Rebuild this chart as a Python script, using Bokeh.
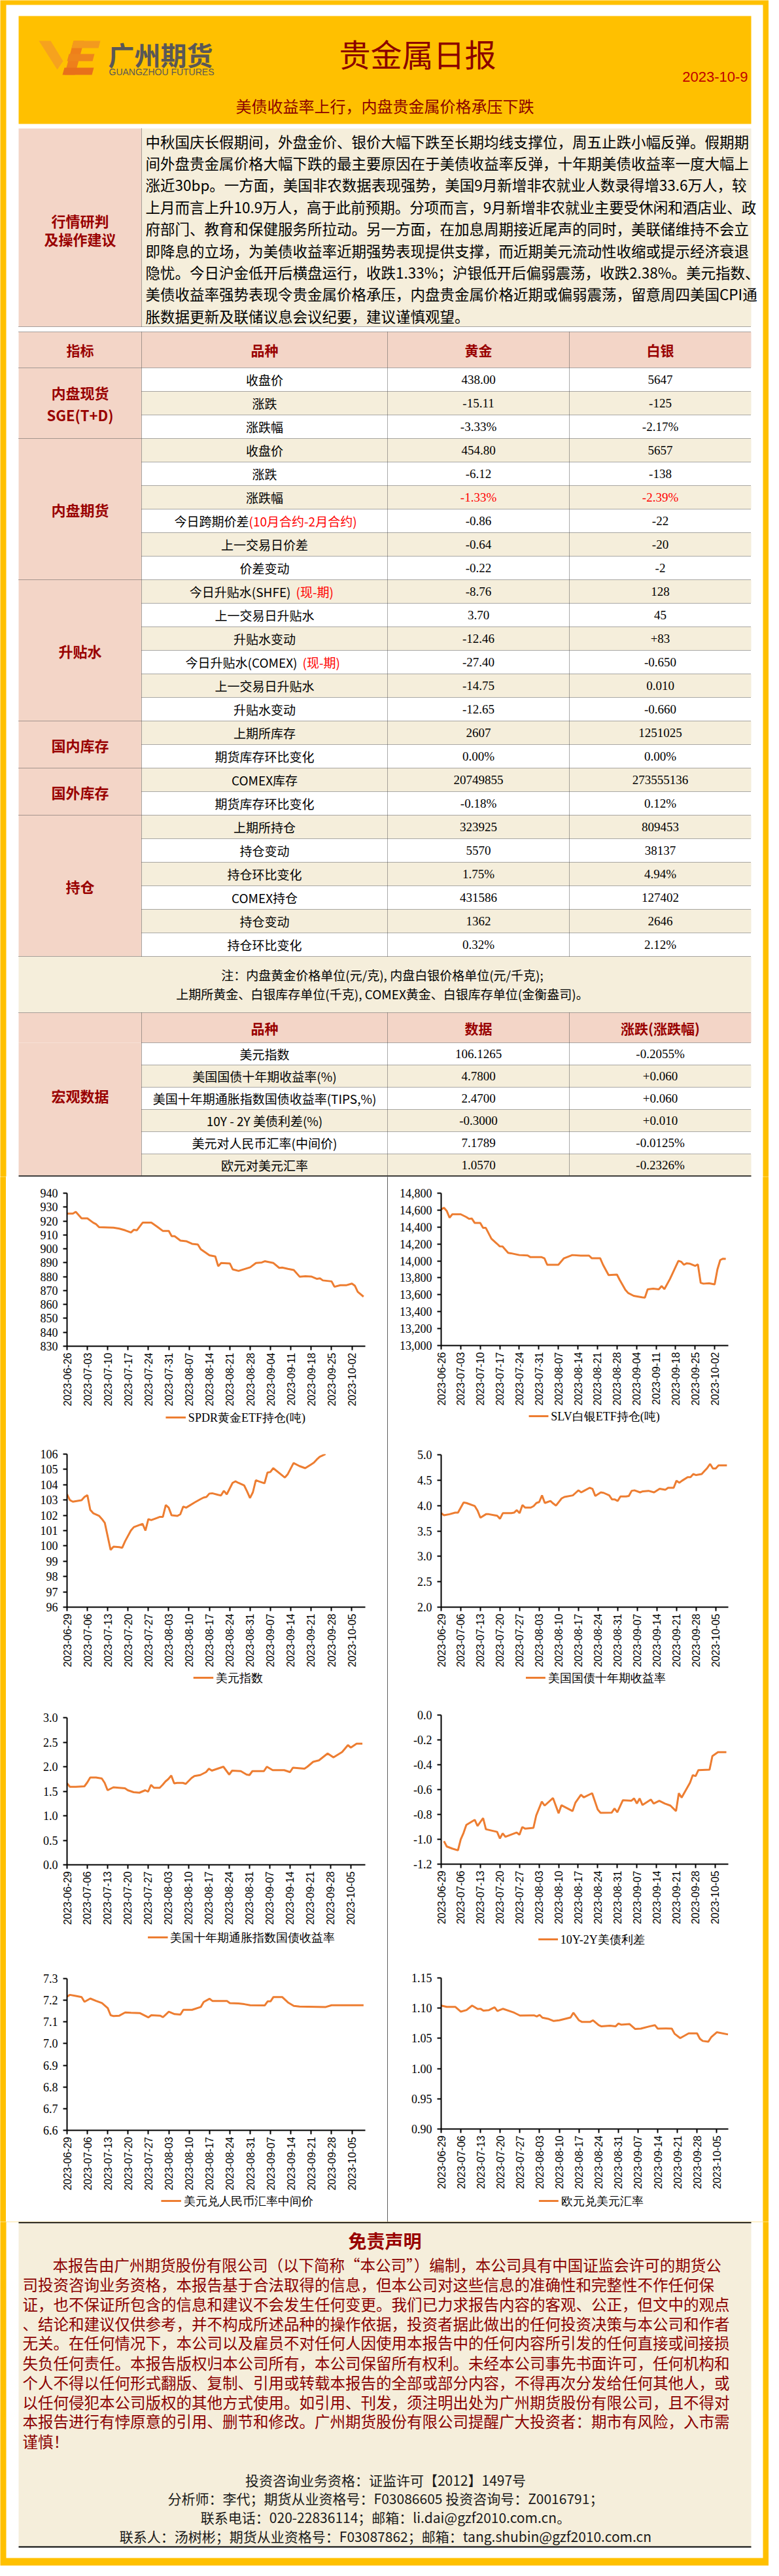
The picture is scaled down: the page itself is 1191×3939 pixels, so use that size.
import math
from collections import defaultdict
import pandas as pd
from bokeh.plotting import figure
from bokeh.models import (Range1d, FixedTicker, NumeralTickFormatter, DatetimeTickFormatter,
                          Row, Column)
from bokeh.core.properties import value
from bokeh.embed import file_html
from bokeh.resources import INLINE

# ------------------------------------------------------------------ data
report_date = "2023-10-9"
report_title = "贵金属日报"
report_subtitle = "美债收益率上行，内盘贵金属价格承压下跌"
research_label = ["行情研判", "及操作建议"]
research_lines = [
    "中秋国庆长假期间，外盘金价、银价大幅下跌至长期均线支撑位，周五止跌小幅反弹。假期期",
    "间外盘贵金属价格大幅下跌的最主要原因在于美债收益率反弹，十年期美债收益率一度大幅上",
    "涨近30bp。一方面，美国非农数据表现强势，美国9月新增非农就业人数录得增33.6万人，较",
    "上月而言上升10.9万人，高于此前预期。分项而言，9月新增非农就业主要受休闲和酒店业、政",
    "府部门、教育和保健服务所拉动。另一方面，在加息周期接近尾声的同时，美联储维持不会立",
    "即降息的立场，为美债收益率近期强势表现提供支撑，而近期美元流动性收缩或提示经济衰退",
    "隐忧。今日沪金低开后横盘运行，收跌1.33%；沪银低开后偏弱震荡，收跌2.38%。美元指数、",
    "美债收益率强势表现令贵金属价格承压，内盘贵金属价格近期或偏弱震荡，留意周四美国CPI通",
    "胀数据更新及联储议息会议纪要，建议谨慎观望。",
]
table_header = ["指标", "品种", "黄金", "白银"]
group_names = [["内盘现货", "SGE(T+D)"], ["内盘期货"], ["升贴水"], ["国内库存"], ["国外库存"], ["持仓"]]
group_sizes = [3, 6, 6, 2, 2, 6]
item_names = ["收盘价", "涨跌", "涨跌幅",
              "收盘价", "涨跌", "涨跌幅", "今日跨期价差", "上一交易日价差", "价差变动",
              "今日升贴水(SHFE)", "上一交易日升贴水", "升贴水变动",
              "今日升贴水(COMEX)", "上一交易日升贴水", "升贴水变动",
              "上期所库存", "期货库存环比变化",
              "COMEX库存", "期货库存环比变化",
              "上期所持仓", "持仓变动", "持仓环比变化", "COMEX持仓", "持仓变动", "持仓环比变化"]
item_suffix = ["", "", "", "", "", "", "(10月合约-2月合约)", "", "", "(现-期)", "", "",
               "(现-期)", "", "", "", "", "", "", "", "", "", "", "", ""]
gold_vals = ["438.00", "-15.11", "-3.33%", "454.80", "-6.12", "-1.33%", "-0.86", "-0.64", "-0.22",
             "-8.76", "3.70", "-12.46", "-27.40", "-14.75", "-12.65", "2607", "0.00%",
             "20749855", "-0.18%", "323925", "5570", "1.75%", "431586", "1362", "0.32%"]
silver_vals = ["5647", "-125", "-2.17%", "5657", "-138", "-2.39%", "-22", "-20", "-2",
               "128", "45", "+83", "-0.650", "0.010", "-0.660", "1251025", "0.00%",
               "273555136", "0.12%", "809453", "38137", "4.94%", "127402", "2646", "2.12%"]
red_value_rows = [5]
note_lines = ["注：内盘黄金价格单位(元/克), 内盘白银价格单位(元/千克);",
              "上期所黄金、白银库存单位(千克), COMEX黄金、白银库存单位(金衡盎司)。"]
macro_label = "宏观数据"
macro_header = ["品种", "数据", "涨跌(涨跌幅)"]
macro_items = ["美元指数", "美国国债十年期收益率(%)", "美国十年期通胀指数国债收益率(TIPS,%)",
               "10Y - 2Y 美债利差(%)", "美元对人民币汇率(中间价)", "欧元对美元汇率"]
macro_vals = ["106.1265", "4.7800", "2.4700", "-0.3000", "7.1789", "1.0570"]
macro_chg = ["-0.2055%", "+0.060", "+0.060", "+0.010", "-0.0125%", "-0.2326%"]

ticks_a = ["2023-06-26", "2023-07-03", "2023-07-10", "2023-07-17", "2023-07-24", "2023-07-31",
           "2023-08-07", "2023-08-14", "2023-08-21", "2023-08-28", "2023-09-04", "2023-09-11",
           "2023-09-18", "2023-09-25", "2023-10-02"]
ticks_b = ["2023-06-29", "2023-07-06", "2023-07-13", "2023-07-20", "2023-07-27", "2023-08-03",
           "2023-08-10", "2023-08-17", "2023-08-24", "2023-08-31", "2023-09-07", "2023-09-14",
           "2023-09-21", "2023-09-28", "2023-10-05"]

spdr_start = "2023-06-26"
spdr_day = [0, 2, 3, 5, 7, 9, 10, 11, 16, 18, 20, 22, 23, 24, 26, 29, 31, 33, 35, 36,
            37, 39, 41, 43, 45, 46, 49, 51, 52, 53, 56, 57, 59, 63, 65, 67, 68, 71, 73, 74,
            76, 78, 80, 82, 84, 86, 87, 88, 91, 92, 94, 96, 98, 99, 100, 102]
spdr_val = [925.3, 925.3, 926.6, 921.9, 921.9, 918.8, 917.7, 915.6, 915.2, 914.5,
            913.3, 911.7, 913.7, 913.3, 918.8, 918.8, 915.9, 912.8, 912.8, 909.1,
            909.1, 905.9, 905.5, 903.6, 903.1, 899.7, 895.3, 894.5, 887.5, 889.8,
            889.5, 885.2, 884.1, 886.7, 889.8, 890.2, 891.1, 889.8, 886.3, 886.5,
            885.6, 884.8, 880.0, 880.3, 880.1, 878.4, 878.8, 877.3, 876.6, 872.7,
            873.8, 873.8, 875.0, 873.5, 869.1, 865.6]

slv_start = "2023-06-26"
slv_day = [0, 1, 2, 3, 4, 5, 7, 9, 10, 11, 12, 14, 15, 16, 17, 18, 20, 21, 22, 24,
           25, 28, 31, 32, 36, 37, 38, 42, 44, 47, 50, 53, 54, 57, 58, 60, 63, 64, 66, 67,
           69, 72, 73, 74, 76, 78, 79, 80, 82, 85, 86, 87, 88, 89, 91, 92, 93, 94, 96, 98,
           99, 100, 101, 102]
slv_val = [14608, 14628, 14590, 14510, 14551, 14551, 14551, 14518, 14497, 14500,
           14449, 14449, 14390, 14390, 14326, 14262, 14203, 14172, 14170, 14095,
           14090, 14069, 14064, 14044, 14044, 14031, 13954, 13954, 14031, 14069,
           14062, 14062, 14031, 14031, 13954, 13833, 13838, 13774, 13659, 13621,
           13587, 13569, 13565, 13664, 13672, 13664, 13703, 13667, 13787, 14000,
           13990, 13954, 13972, 13968, 13941, 13959, 13741, 13731, 13736, 13723,
           13900, 14010, 14026, 14023]

dxy_start = "2023-06-29"
dxy_day = [0, 1, 2, 5, 6, 7, 8, 9, 11, 12, 13, 15, 16, 18, 19, 20, 22, 23, 26, 27,
           28, 29, 31, 32, 33, 34, 35, 36, 38, 39, 40, 41, 44, 46, 47, 48, 49, 50, 52, 53,
           54, 55, 57, 58, 59, 61, 62, 63, 64, 65, 66, 68, 69, 70, 71, 75, 76, 78, 80, 82,
           84, 85, 86, 87, 89]
dxy_val = [103.37, 102.99, 102.89, 102.99, 103.20, 103.32, 102.36, 102.14, 101.97, 101.76,
           101.51, 99.74, 99.95, 99.92, 99.88, 100.31, 101.01, 101.23, 101.44, 101.00,
           101.75, 101.69, 101.83, 101.90, 101.90, 102.67, 102.50, 102.00, 101.96, 102.07,
           102.57, 102.50, 102.85, 103.06, 103.16, 103.20, 103.42, 103.44, 103.34, 103.30,
           103.60, 103.37, 104.12, 104.22, 104.12, 103.95, 103.56, 103.13, 103.51, 104.29,
           104.22, 104.09, 104.79, 104.83, 105.08, 104.47, 104.69, 105.42, 105.22, 105.08,
           105.32, 105.44, 105.65, 105.82, 106.00]

ust_start = "2023-06-29"
ust_day = [0, 1, 3, 5, 6, 8, 9, 12, 13, 14, 16, 17, 19, 20, 21, 22, 25, 26, 27, 28,
           29, 30, 32, 33, 34, 35, 36, 37, 38, 39, 40, 41, 43, 44, 47, 48, 49, 50, 51, 53,
           54, 55, 57, 58, 60, 61, 62, 63, 64, 66, 67, 68, 69, 71, 72, 74, 76, 78, 80, 81,
           83, 84, 85, 86, 88, 89, 90, 91, 93, 94, 95, 96, 97, 98, 99, 102]
ust_val = [3.85, 3.81, 3.83, 3.86, 3.86, 4.06, 4.05, 3.99, 3.90, 3.76,
           3.83, 3.83, 3.81, 3.80, 3.74, 3.85, 3.85, 3.86, 3.91, 3.85,
           4.01, 3.96, 3.96, 3.99, 4.05, 4.07, 4.20, 4.05, 4.07, 4.09,
           4.04, 4.00, 4.14, 4.17, 4.20, 4.25, 4.30, 4.26, 4.29, 4.35,
           4.33, 4.19, 4.26, 4.25, 4.20, 4.12, 4.12, 4.09, 4.18, 4.18,
           4.19, 4.29, 4.30, 4.26, 4.28, 4.29, 4.26, 4.33, 4.31, 4.35,
           4.35, 4.49, 4.45, 4.49, 4.56, 4.56, 4.62, 4.60, 4.62, 4.68,
           4.74, 4.82, 4.73, 4.73, 4.79, 4.79]

tips_start = "2023-06-29"
tips_day = [0, 1, 3, 6, 7, 8, 10, 12, 13, 14, 16, 18, 20, 21, 23, 25, 27, 28, 29, 30,
            32, 33, 34, 35, 36, 37, 38, 40, 41, 43, 44, 46, 48, 49, 50, 52, 54, 56, 57, 60,
            62, 63, 64, 68, 69, 71, 75, 77, 78, 82, 83, 85, 87, 90, 92, 95, 97, 98, 100, 102]
tips_val = [1.66, 1.59, 1.59, 1.60, 1.68, 1.78, 1.78, 1.76, 1.67, 1.52,
            1.58, 1.57, 1.56, 1.52, 1.48, 1.47, 1.52, 1.49, 1.63, 1.57,
            1.57, 1.63, 1.70, 1.75, 1.82, 1.66, 1.67, 1.67, 1.65, 1.77,
            1.81, 1.83, 1.89, 1.96, 1.92, 1.96, 2.00, 1.84, 1.92, 1.91,
            1.84, 1.83, 1.91, 1.91, 2.00, 1.93, 1.93, 1.89, 1.98, 1.96,
            2.00, 2.10, 2.13, 2.27, 2.19, 2.30, 2.44, 2.39, 2.47, 2.47]

spread_start = "2023-06-29"
spread_day = [1, 2, 4, 6, 7, 8, 9, 12, 13, 15, 16, 20, 21, 22, 23, 27, 28, 29, 30, 33,
              34, 36, 37, 40, 42, 43, 47, 48, 50, 51, 54, 56, 57, 61, 62, 63, 65, 68, 69, 70,
              71, 72, 75, 76, 78, 80, 82, 84, 85, 86, 89, 90, 91, 92, 96, 97, 99, 102]
spread_val = [-1.015, -1.058, -1.075, -1.089, -1.001, -0.949, -0.884, -0.843, -0.893, -0.829,
              -0.919, -0.940, -0.993, -0.952, -0.980, -0.945, -0.963, -0.901, -0.914, -0.908,
              -0.808, -0.697, -0.729, -0.668, -0.791, -0.726, -0.773, -0.706, -0.641, -0.662,
              -0.629, -0.761, -0.787, -0.785, -0.752, -0.782, -0.685, -0.690, -0.671, -0.712,
              -0.671, -0.724, -0.680, -0.712, -0.690, -0.712, -0.729, -0.773, -0.629, -0.664,
              -0.545, -0.483, -0.492, -0.443, -0.439, -0.330, -0.299, -0.299]

cny_start = "2023-06-29"
cny_day = [0, 1, 3, 5, 6, 8, 10, 12, 14, 15, 16, 18, 20, 22, 25, 28, 29, 32, 33, 35,
           37, 39, 40, 43, 46, 47, 49, 50, 55, 56, 59, 61, 63, 68, 69, 70, 71, 74, 76, 78,
           80, 89, 91, 102]
cny_val = [7.217, 7.225, 7.220, 7.215, 7.193, 7.208, 7.197, 7.187, 7.164, 7.131,
           7.127, 7.129, 7.144, 7.142, 7.141, 7.121, 7.131, 7.129, 7.122, 7.147,
           7.136, 7.134, 7.156, 7.156, 7.169, 7.192, 7.207, 7.197, 7.197, 7.187,
           7.185, 7.182, 7.177, 7.176, 7.195, 7.195, 7.215, 7.215, 7.190, 7.174,
           7.171, 7.169, 7.177, 7.177]

eur_start = "2023-06-29"
eur_day = [0, 2, 5, 7, 9, 11, 13, 14, 15, 17, 19, 20, 22, 25, 26, 28, 33, 34, 35, 36,
           38, 40, 42, 46, 47, 49, 50, 53, 54, 56, 57, 60, 62, 63, 64, 67, 69, 71, 74, 76,
           77, 80, 82, 83, 85, 88, 91, 92, 93, 95, 96, 98, 102]
eur_val = [1.1043, 1.1022, 1.1022, 1.0942, 1.0968, 1.1043, 1.0986, 1.0990, 1.0960, 1.0968,
           1.1014, 1.0953, 1.0989, 1.0942, 1.0924, 1.0878, 1.0881, 1.0863, 1.0888, 1.0842,
           1.0824, 1.0788, 1.0799, 1.0845, 1.0924, 1.0799, 1.0773, 1.0773, 1.0799, 1.0719,
           1.0698, 1.0709, 1.0698, 1.0745, 1.0727, 1.0737, 1.0655, 1.0662, 1.0698, 1.0719,
           1.0662, 1.0665, 1.0662, 1.0576, 1.0504, 1.0583, 1.0583, 1.0493, 1.0457, 1.0446,
           1.0518, 1.0601, 1.0565]

disclaimer_title = "免责声明"
disclaimer_lines = [
    "本报告由广州期货股份有限公司（以下简称“本公司”）编制，本公司具有中国证监会许可的期货公",
    "司投资咨询业务资格，本报告基于合法取得的信息，但本公司对这些信息的准确性和完整性不作任何保",
    "证，也不保证所包含的信息和建议不会发生任何变更。我们已力求报告内容的客观、公正，但文中的观点",
    "、结论和建议仅供参考，并不构成所述品种的操作依据，投资者据此做出的任何投资决策与本公司和作者",
    "无关。在任何情况下，本公司以及雇员不对任何人因使用本报告中的任何内容所引发的任何直接或间接损",
    "失负任何责任。本报告版权归本公司所有，本公司保留所有权利。未经本公司事先书面许可，任何机构和",
    "个人不得以任何形式翻版、复制、引用或转载本报告的全部或部分内容，不得再次分发给任何其他人，或",
    "以任何侵犯本公司版权的其他方式使用。如引用、刊发，须注明出处为广州期货股份有限公司，且不得对",
    "本报告进行有悖原意的引用、删节和修改。广州期货股份有限公司提醒广大投资者：期市有风险，入市需",
    "谨慎！",
]
contact_lines = [
    "投资咨询业务资格：证监许可【2012】1497号",
    "分析师：李代；期货从业资格号：F03086605 投资咨询号：Z0016791；",
    "联系电话：020-22836114；邮箱：li.dai@gzf2010.com.cn。",
    "联系人：汤树彬；期货从业资格号：F03087862；邮箱：tang.shubin@gzf2010.com.cn",
]

# ------------------------------------------------------------------ style
YELLOW = "#FFC000"
PINK = "#F3D5C7"
BEIGE = "#F5EEDB"
DARKRED = "#8B0000"
LABELRED = "#990000"
RED = "#FF0000"
ORANGE = "#ED7D31"
CJK = "Noto Sans CJK SC"
SERIF = "Liberation Serif"
SANS = "Liberation Sans"


def canvas(w, h, x0, x1, ytop, ybot, bg):
    return figure(width=w, height=h, x_range=Range1d(x0, x1), y_range=Range1d(ybot, ytop),
                  output_backend="svg", toolbar_location=None, x_axis_type=None, y_axis_type=None,
                  min_border=0, outline_line_color=None,
                  background_fill_color=bg, border_fill_color=bg)


def quads(p, boxes):
    p.quad(left=[b[0] for b in boxes], right=[b[1] for b in boxes],
           top=[b[2] for b in boxes], bottom=[b[3] for b in boxes],
           fill_color=[b[4] for b in boxes], line_color=None)


def texts(p, items):
    groups = defaultdict(lambda: ([], [], []))
    for (x, y, s, size, color, font, align, bold) in items:
        g = groups[(size, color, font, align, bold)]
        g[0].append(x)
        g[1].append(y)
        g[2].append(s)
    for (size, color, font, align, bold), (xs, ys, ss) in groups.items():
        p.text(x=xs, y=ys, text=ss, text_font=value(font), text_font_size=value(f"{size}px"),
               text_color=color, text_align=align, text_baseline="middle",
               text_font_style="bold" if bold else "normal")


def dotted(p, segs):
    p.segment(x0=[s[0] for s in segs], y0=[s[1] for s in segs],
              x1=[s[2] for s in segs], y1=[s[3] for s in segs],
              line_color="#555555", line_width=1, line_dash="1 1")


# ------------------------------------------------------------------ top section
top = canvas(1175, 1799, 8, 1183, 8, 1807, YELLOW)
boxes = [(17, 1174, 15, 1807, "white"), (36, 1156, 32, 197, YELLOW),
         (36, 224, 204, 507, PINK), (224, 1156, 204, 507, BEIGE),
         (36, 1156, 515, 570, PINK), (36, 224, 570, 1470, PINK)]
ROW0, RH = 570, 36
for i in range(len(item_names)):
    boxes.append((224, 1156, ROW0 + RH * i, ROW0 + RH * (i + 1), "white" if i % 2 == 0 else BEIGE))
boxes += [(36, 1156, 1470, 1556, BEIGE), (36, 1156, 1556, 1602, PINK), (36, 224, 1602, 1805, PINK)]
MR0, MRH = 1602, 34
for i in range(len(macro_items)):
    boxes.append((224, 1156, MR0 + MRH * i, MR0 + MRH * (i + 1), "white" if i % 2 == 0 else BEIGE))
boxes.append((36, 1156, 1805, 1807, "black"))
quads(top, boxes)

# logo
top.patches(xs=[[67, 85, 104, 95], [120, 136, 122, 106], [120, 161, 158, 117],
                [113, 152, 149, 110], [106, 151, 148, 103]],
            ys=[[70, 70, 101, 114], [70, 70, 122, 122], [70, 70, 81, 81],
                [90, 90, 101, 101], [111, 111, 122, 122]],
            fill_color=["#F6A21E", "#EE7F1B", "#F39A1E", "#EE851C", "#E8701A"], line_color=None)

# grid lines
segs = [(36, 507, 1156, 507), (36, 515, 1156, 515), (36, 570, 1156, 570), (224, 204, 224, 507)]
bounds = set()
acc = 0
for n in group_sizes:
    acc += n
    bounds.add(acc)
for k in range(1, len(item_names) + 1):
    y = ROW0 + RH * k
    segs.append((36 if k in bounds else 224, y, 1156, y))
for x in (224, 600, 878):
    segs.append((x, 515, x, 1470))
    segs.append((x, 1556, x, 1805))
segs.append((36, 1556, 1156, 1556))
segs.append((224, 1602, 1156, 1602))
for k in range(1, len(macro_items)):
    segs.append((224, MR0 + MRH * k, 1156, MR0 + MRH * k))
dotted(top, segs)

T = []
T.append((173, 90, "广州期货", 40, "#595757", CJK, "left", True))
T.append((174, 117, "GUANGZHOU FUTURES", 14, "#595757", SANS, "left", False))
T.append((646, 88, report_title, 48, DARKRED, CJK, "center", False))
T.append((1151, 125, report_date, 22, "#C00000", SANS, "right", False))
T.append((596, 169, report_subtitle, 24, DARKRED, CJK, "center", False))
T.append((130, 344, research_label[0], 22, LABELRED, CJK, "center", True))
T.append((130, 372, research_label[1], 22, LABELRED, CJK, "center", True))
for k, line in enumerate(research_lines):
    T.append((230, 223 + 33.4 * k, line, 22.5, "#000000", CJK, "left", False))
for x, s in zip((130, 412, 739, 1017), table_header):
    T.append((x, 542, s, 21, LABELRED, CJK, "center", True))
start = 0
for names, n in zip(group_names, group_sizes):
    cy = ROW0 + RH * (start + n / 2)
    if len(names) == 2:
        T.append((130, cy - 17, names[0], 22, LABELRED, CJK, "center", True))
        T.append((130, cy + 17, names[1], 22, LABELRED, CJK, "center", True))
    else:
        T.append((130, cy, names[0], 22, LABELRED, CJK, "center", True))
    start += n
split_x = {6: 388, 9: 452, 12: 462}
for i, name in enumerate(item_names):
    cy = ROW0 + RH * i + 18
    if item_suffix[i]:
        sx = split_x[i]
        gap = 0 if i == 6 else 8
        T.append((sx, cy, name, 19, "#000000", CJK, "right", False))
        T.append((sx + gap, cy, item_suffix[i], 19, RED, CJK, "left", False))
    else:
        T.append((412, cy, name, 19, "#000000", CJK, "center", False))
    vc = RED if i in red_value_rows else "#000000"
    T.append((739, cy, gold_vals[i], 19, vc, SERIF, "center", False))
    T.append((1017, cy, silver_vals[i], 19, vc, SERIF, "center", False))
T.append((592, 1498, note_lines[0], 19, "#000000", CJK, "center", False))
T.append((592, 1527, note_lines[1], 19, "#000000", CJK, "center", False))
for x, s in zip((412, 739, 1017), macro_header):
    T.append((x, 1579, s, 21, LABELRED, CJK, "center", True))
T.append((130, 1682, macro_label, 22, LABELRED, CJK, "center", True))
for i in range(len(macro_items)):
    cy = MR0 + MRH * i + 17
    T.append((412, cy, macro_items[i], 19, "#000000", CJK, "center", False))
    T.append((739, cy, macro_vals[i], 19, "#000000", SERIF, "center", False))
    T.append((1017, cy, macro_chg[i], 19, "#000000", SERIF, "center", False))
texts(top, T)


# ------------------------------------------------------------------ charts
def chart(w, x_left, geo, start, days, vals, end_days, tick_strs, yr, yticks, yfmt, label, leg_x):
    # geo: (row_top, row_bottom, frame_top, frame_bottom, border_left, border_right, legend_center)
    row_top, row_bot, f_top, f_bot, bl, br, leg_c = geo
    leg_top = leg_c - 13
    h = leg_top - row_top
    t0 = pd.Timestamp(start)
    xs = [t0 + pd.Timedelta(days=d) for d in days]
    p = figure(width=w, height=h, x_axis_type="datetime",
               x_range=Range1d(t0, t0 + pd.Timedelta(days=end_days)),
               y_range=Range1d(yr[0], yr[1]),
               output_backend="svg", toolbar_location=None,
               min_border_left=bl, min_border_right=br,
               min_border_top=f_top - row_top, min_border_bottom=leg_top - f_bot,
               background_fill_color="white", border_fill_color="white", outline_line_color=None)
    p.line(xs, vals, line_color=ORANGE, line_width=3)
    p.grid.visible = False
    p.xaxis.ticker = FixedTicker(ticks=[pd.Timestamp(s).value / 1e6 for s in tick_strs])
    f = "%Y-%m-%d"
    p.xaxis.formatter = DatetimeTickFormatter(milliseconds=f, seconds=f, minsec=f, minutes=f,
                                              hourmin=f, hours=f, days=f, months=f, years=f)
    p.xaxis.major_label_orientation = math.pi / 2
    p.xaxis.major_label_text_font = SANS
    p.xaxis.major_label_text_font_size = "16px"
    p.xaxis.major_label_standoff = 4
    p.yaxis.ticker = FixedTicker(ticks=yticks)
    p.yaxis.formatter = NumeralTickFormatter(format=yfmt)
    p.yaxis.major_label_text_font = SERIF
    p.yaxis.major_label_text_font_size = "18px"
    p.yaxis.major_label_standoff = 8
    for ax in (p.xaxis, p.yaxis):
        ax.axis_line_color = "black"
        ax.axis_line_width = 2
        ax.major_tick_line_color = "black"
        ax.major_tick_line_width = 2
        ax.major_tick_out = 6
        ax.major_tick_in = 0
        ax.minor_tick_out = 0
        ax.minor_tick_in = 0
        ax.major_label_text_color = "black"

    # legend strip below the chart (key line + series name)
    lf = canvas(w, row_bot - leg_top, x_left, x_left + w, leg_top, row_bot, "white")
    lf.line(x=[leg_x, leg_x + 39], y=[leg_c, leg_c], line_color=ORANGE, line_width=3)
    texts(lf, [(leg_x + 44, leg_c, label, 18, "#000000", SERIF, "left", False)])
    return p, lf


c1 = chart(583, 17, (1807, 2204, 1832, 2066, 93, 34, 2175), spdr_start, spdr_day, spdr_val, 102.6,
           ticks_a, (830, 940), list(range(830, 941, 10)), "0", "SPDR黄金ETF持仓(吨)", 210)
c2 = chart(573, 601, (1807, 2204, 1832, 2066, 79, 50, 2173), slv_start, slv_day, slv_val, 102.9,
           ticks_a, (13000, 14800), list(range(13000, 14801, 200)), "0,0", "SLV白银ETF持仓(吨)", 776)
c3 = chart(583, 17, (2206, 2605, 2231, 2467, 91, 34, 2573), dxy_start, dxy_day, dxy_val, 102.7,
           ticks_b, (96, 106), list(range(96, 107)), "0", "美元指数", 264)
c4 = chart(573, 601, (2206, 2605, 2232, 2467, 78, 52, 2573), ust_start, ust_day, ust_val, 102.5,
           ticks_b, (2.0, 5.0), [2.0, 2.5, 3.0, 3.5, 4.0, 4.5, 5.0], "0.0", "美国国债十年期收益率", 770)
c5 = chart(583, 17, (2607, 3005, 2634, 2859, 89, 34, 2970), tips_start, tips_day, tips_val, 103.0,
           ticks_b, (0.0, 3.0), [0.0, 0.5, 1.0, 1.5, 2.0, 2.5, 3.0], "0.0", "美国十年期通胀指数国债收益率", 175)
c6 = chart(573, 601, (2607, 3005, 2630, 2858, 73, 53, 2973), spread_start, spread_day, spread_val, 102.7,
           ticks_b, (-1.2, 0.0), [-1.2, -1.0, -0.8, -0.6, -0.4, -0.2, 0.0], "0.0", "10Y-2Y美债利差", 795)
c7 = chart(583, 17, (3007, 3405, 3033, 3266, 89, 34, 3373), cny_start, cny_day, cny_val, 102.6,
           ticks_b, (6.6, 7.3), [6.6, 6.7, 6.8, 6.9, 7.0, 7.1, 7.2, 7.3], "0.0", "美元兑人民币汇率中间价", 201)
c8 = chart(573, 601, (3007, 3405, 3032, 3263, 81, 51, 3373), eur_start, eur_day, eur_val, 102.1,
           ticks_b, (0.90, 1.15), [0.90, 0.95, 1.00, 1.05, 1.10, 1.15], "0.00", "欧元兑美元汇率", 796)


def block(w, h, color):
    f = canvas(w, h, 0, 1, 0, 1, color)
    f.quad(left=[0], right=[1], top=[0], bottom=[1], fill_color=color, line_color=None)
    return f


def hline_left():
    f = canvas(583, 2, 17, 600, 0, 2, "white")
    f.quad(left=[36], right=[600], top=[0], bottom=[2], fill_color="black", line_color=None)
    return f


def hline_right():
    f = canvas(573, 2, 601, 1174, 0, 2, "white")
    f.quad(left=[601], right=[1156], top=[0], bottom=[2], fill_color="black", line_color=None)
    return f


col_left = Column(children=[*c1, hline_left(), *c3, hline_left(), *c5, hline_left(), *c7], spacing=0)
col_right = Column(children=[*c2, hline_right(), *c4, hline_right(), *c6, hline_right(), *c8], spacing=0)
middle = Row(children=[block(9, 1598, YELLOW), col_left, block(1, 1598, "black"), col_right,
                       block(9, 1598, YELLOW)], spacing=0)

# ------------------------------------------------------------------ footer
foot = canvas(1175, 526, 8, 1183, 3405, 3931, YELLOW)
quads(foot, [(17, 1174, 3405, 3919, "white"), (36, 1156, 3407, 3901, BEIGE),
             (36, 1156, 3405, 3407, "black"), (36, 1156, 3901, 3903, "black"),
             (600, 601, 3405, 3406, "black")])
F = [(596, 3433, disclaimer_title, 28, LABELRED, CJK, "center", True)]
dy = [3470, 3500, 3530, 3560, 3589, 3620, 3650, 3680, 3709, 3740]
for k, line in enumerate(disclaimer_lines):
    F.append((88 if k == 0 else 42, dy[k], line, 23.5, DARKRED, CJK, "left", False))
for k, line in enumerate(contact_lines):
    F.append((597, 3799 + 28.7 * k, line, 21, "#1A1A1A", CJK, "center", False))
texts(foot, F)

page = Column(children=[top, middle, foot], spacing=0)
open("out.html", "w").write(file_html(page, INLINE))
